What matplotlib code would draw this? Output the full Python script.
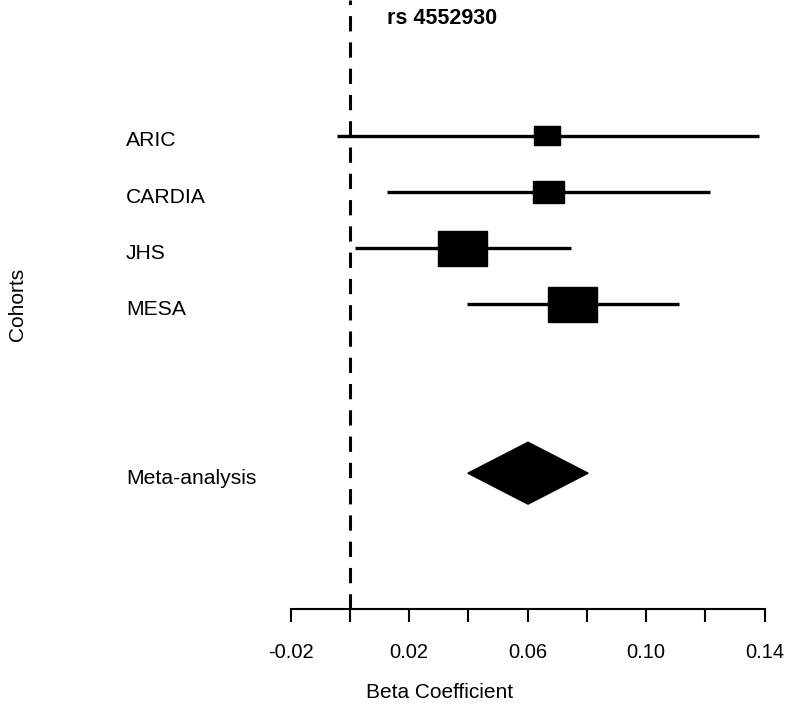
import numpy as np
import matplotlib
matplotlib.use('Agg')
import matplotlib.pyplot as plt
from matplotlib.patches import Rectangle, Polygon

# forest plot data
cohorts = ['ARIC', 'CARDIA', 'JHS', 'MESA']
beta = [0.0665, 0.0670, 0.0380, 0.0751]
ci_low = [-0.0044, 0.0125, 0.0017, 0.0395]
ci_high = [0.1381, 0.1215, 0.0746, 0.1111]
weights = [10.5, 14.9, 37.3, 37.3]

meta_label = 'Meta-analysis'
meta_beta = 0.0601
meta_low = 0.0398
meta_high = 0.0804

xticks = [-0.02, 0.0, 0.02, 0.04, 0.06, 0.08, 0.10, 0.12, 0.14]
xtick_labels = ['-0.02', '', '0.02', '', '0.06', '', '0.10', '', '0.14']

plt.rcParams['font.family'] = ['Liberation Sans', 'DejaVu Sans']

W, H = 800, 716
px_per_x = 2962.0   # pixels per beta unit
px_per_y = 56.3     # pixels per row
axis_px = 609       # y pixel of the x axis

fig = plt.figure(figsize=(W / 100, H / 100), dpi=100)
ax = fig.add_axes([0, 1 - axis_px / H, 1, axis_px / H])
ax.set_xlim(-350 / px_per_x, (W - 350) / px_per_x)
ax.set_ylim(1 - (axis_px - 473) / px_per_y, 7 + 136 / px_per_y)

rows = [7, 6, 5, 4]
meta_row = 1

# reference line at zero
ax.axvline(0, color='black', lw=2.2, dashes=(5, 3.6), zorder=1)

for y, b, lo, hi, w in zip(rows, beta, ci_low, ci_high, weights):
    ax.plot([lo, hi], [y, y], color='black', lw=2.4, solid_capstyle='butt', zorder=2)
    bw = 0.01654 * np.sqrt(w / 37.3)
    bh = bw * 0.72 * px_per_x / px_per_y
    ax.add_patch(Rectangle((b - bw / 2, y - bh / 2), bw, bh, color='black', zorder=3))

dh = 31 / px_per_y
ax.add_patch(Polygon([(meta_low, meta_row), (meta_beta, meta_row + dh),
                      (meta_high, meta_row), (meta_beta, meta_row - dh)],
                     closed=True, color='black', zorder=3))

label_x = (126 - 350) / px_per_x
for y, name in zip(rows + [meta_row], cohorts + [meta_label]):
    ax.text(label_x, y - 10.5 / px_per_y, name, ha='left', va='baseline', fontsize=15.2)

for s in ['top', 'right', 'left']:
    ax.spines[s].set_visible(False)
ax.spines['bottom'].set_bounds(-0.02, 0.14)
ax.spines['bottom'].set_linewidth(1.5)
ax.set_yticks([])
ax.set_xticks(xticks)
ax.set_xticklabels(xtick_labels, fontsize=14.5)
ax.tick_params(axis='x', length=9.5, width=1.5, pad=15)

fig.text(442 / W, 1 - 18 / H, 'rs 4552930', ha='center', va='center',
         fontsize=15.5, fontweight='bold')
fig.text(440 / W, 1 - 692 / H, 'Beta Coefficient', ha='center', va='center', fontsize=15)
fig.text(17 / W, 1 - 304 / H, 'Cohorts', ha='center', va='center', rotation=90, fontsize=15)

fig.savefig('out.png', dpi=100, facecolor='white')
